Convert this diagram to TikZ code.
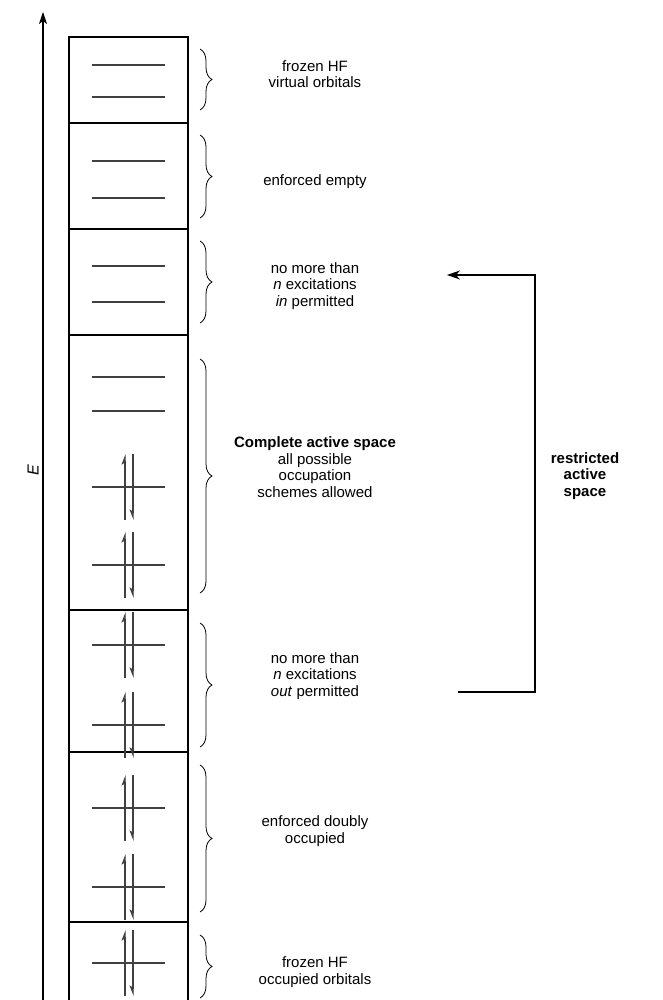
\documentclass[tikz,border=0pt]{standalone}
\usepackage{fontspec}
\setmainfont{Liberation Sans}
\usetikzlibrary{arrows.meta,decorations.pathreplacing}

\begin{document}
\begin{tikzpicture}[x=1pt,y=-1pt,
      box/.style={draw,line width=1.1pt},
      lvl/.style={line width=1.2pt,black!75},
      spin/.style={line width=1.2pt,black!75},
      brc/.style={decorate,decoration={brace,amplitude=12pt},line width=0.8pt},
      lbl/.style={align=center,font=\fontsize{15}{16.6}\selectfont},
      arr/.style={-{Stealth[length=13pt,width=9pt,inset=4pt]},line width=1.1pt}
    ]
      \useasboundingbox (0,0) rectangle (662,1000);
      % energy axis
      \coordinate (e0) at (43,1000);
      \coordinate (e1) at (43,12);
      \draw[-{Stealth[length=12pt,width=8pt,inset=3pt]},line width=1.1pt] (e0) -- (e1);
      \node[rotate=90,font=\fontsize{16}{18}\selectfont\itshape] (E) at (33,470) {E};

      % boxes
      \foreach \t/\b in {37/123,123/229,229/335,335/610,610/752,752/922}
        \draw[box] (69,\t) rectangle (188,\b);
      \draw[box] (69,1000) |- (188,922) -- (188,1000);

      % empty levels
      \foreach \y in {65,97,161,198,266,302,377,411}
        \draw[lvl] (92,\y) -- (165,\y);
      % doubly occupied levels
      \foreach \y in {487,565,645,725,808,887,963} {
        \draw[lvl] (92,\y) -- (165,\y);
        \draw[spin,-{Stealth[harpoon,length=9pt,width=7pt,inset=2pt]}] (125,\y+33) -- (125,\y-33);
        \draw[spin,-{Stealth[harpoon,swap,length=9pt,width=7pt,inset=2pt]}] (133,\y-33) -- (133,\y+33);
      }

      % braces
      \foreach \t/\b in {49/110,135/218,241/323,359/593,623/747,765/912,935/998}
        \draw[brc] (200,\t) -- (200,\b);

      % labels
      \node[lbl] (t1) at (315,74) {frozen HF\\virtual orbitals};
      \node[lbl] (t2) at (315,182) {enforced empty};
      \node[lbl] (t3) at (315,286) {no more than\\\textit{n} excitations\\\textit{in} permitted};
      \node[lbl] (t4) at (315,467) {\textbf{Complete active space}\\all possible\\occupation\\schemes allowed};
      \node[lbl] (t5) at (315,676) {no more than\\\textit{n} excitations\\\textit{out} permitted};
      \node[lbl] (t6) at (315,831) {enforced doubly\\occupied};
      \node[lbl] (t7) at (315,972) {frozen HF\\occupied orbitals};
      \node[lbl,font=\fontsize{15}{16.6}\selectfont\bfseries] (ras) at (585,476) {restricted\\active\\space};

      % ras connector
      \coordinate (ro) at (458,692);
      \coordinate (ri) at (447,275);
      \draw[arr] (ro) -- ++(77,0) |- (ri);
    \end{tikzpicture}
\end{document}
